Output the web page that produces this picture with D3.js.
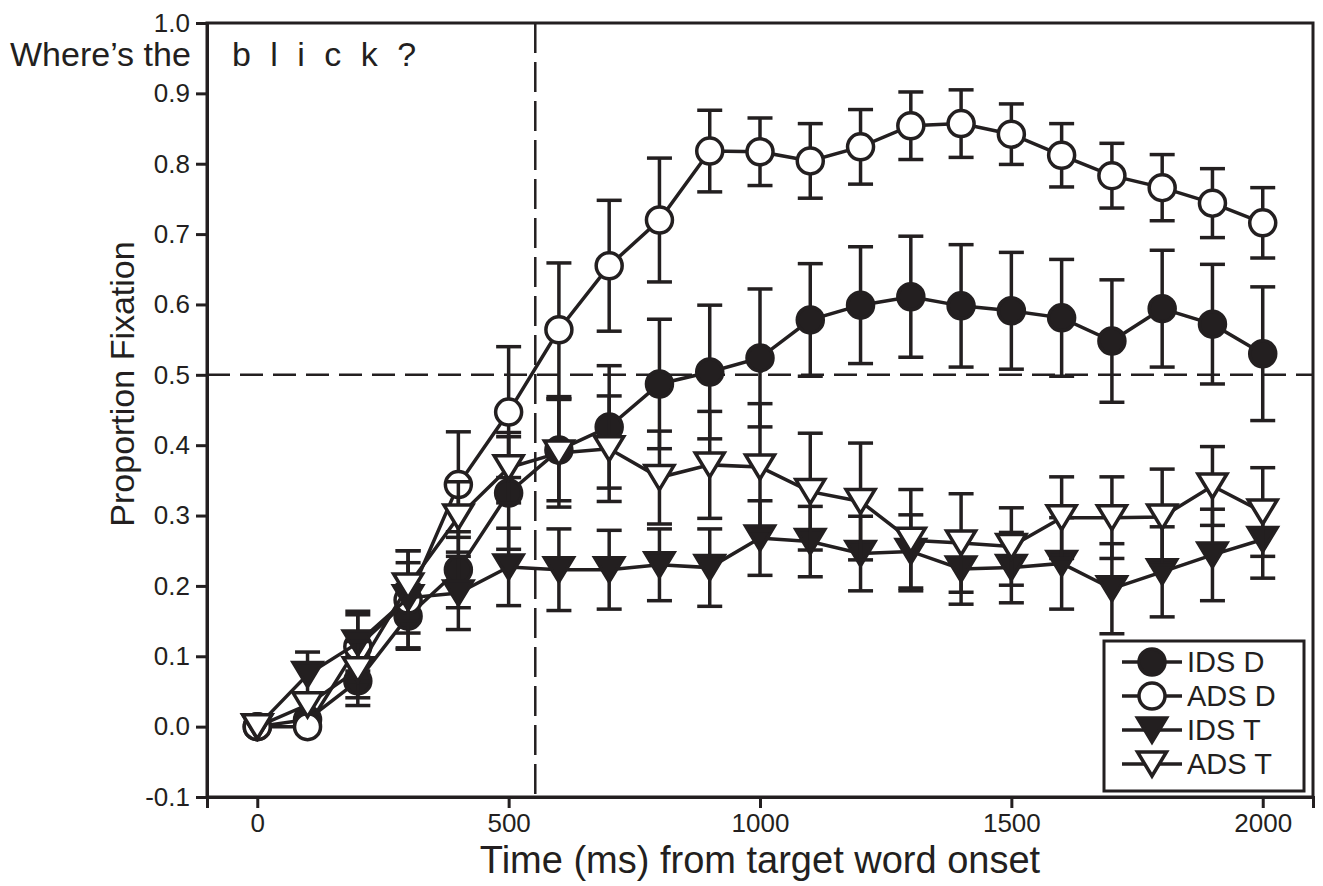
<!DOCTYPE html>
<html>
<head>
<meta charset="utf-8">
<script src="https://cdn.jsdelivr.net/npm/d3@7"></script>
<style>
  html, body { margin: 0; padding: 0; background: #fff; }
  svg { display: block; font-family: "Liberation Sans", Arial, Helvetica, sans-serif; }
</style>
</head>
<body>
<svg id="chart" width="1323" height="886"></svg>
<script>
// ---------- data ----------
const times = [0,100,200,300,400,500,600,700,800,900,1000,1100,1200,1300,1400,1500,1600,1700,1800,1900,2000];

const idsD    = [0.000,0.010,0.065,0.157,0.223,0.332,0.393,0.426,0.487,0.504,0.524,0.578,0.599,0.611,0.598,0.591,0.581,0.548,0.594,0.572,0.530];
const idsDErr = [0,0.010,0.035,0.045,0.054,0.080,0.072,0.087,0.092,0.095,0.098,0.080,0.083,0.086,0.087,0.083,0.083,0.087,0.083,0.085,0.095];

const adsD    = [0.000,0.000,0.114,0.180,0.344,0.447,0.564,0.655,0.720,0.818,0.817,0.804,0.824,0.854,0.857,0.842,0.812,0.783,0.766,0.744,0.716];
const adsDErr = [0,0,0.050,0.070,0.075,0.093,0.095,0.093,0.088,0.058,0.048,0.053,0.053,0.048,0.048,0.043,0.045,0.046,0.047,0.049,0.050];

const idsT    = [0.000,0.074,0.119,0.183,0.190,0.227,0.223,0.223,0.230,0.226,0.268,0.263,0.246,0.249,0.224,0.226,0.232,0.196,0.220,0.244,0.266];
const idsTErr = [0,0.032,0.040,0.050,0.052,0.055,0.058,0.056,0.051,0.055,0.053,0.050,0.053,0.052,0.050,0.050,0.065,0.064,0.064,0.065,0.055];

const adsT    = [0.000,0.031,0.081,0.200,0.298,0.368,0.389,0.395,0.354,0.372,0.369,0.334,0.320,0.265,0.261,0.256,0.297,0.297,0.298,0.342,0.305];
const adsTErr = [0,0.012,0.040,0.050,0.050,0.050,0.077,0.075,0.066,0.076,0.090,0.083,0.083,0.072,0.070,0.055,0.058,0.058,0.068,0.056,0.063];

const seriesNames  = ["IDS D","ADS D","IDS T","ADS T"];
const seriesShapes = ["circle","circle","triangle","triangle"];
const seriesFilled = [true,false,true,false];

const xTicks = [0,500,1000,1500,2000];
const xTickLabels = ["0","500","1000","1500","2000"];
const yTicks = [-0.1,0.0,0.1,0.2,0.3,0.4,0.5,0.6,0.7,0.8,0.9,1.0];
const yTickLabels = ["-0.1","0.0","0.1","0.2","0.3","0.4","0.5","0.6","0.7","0.8","0.9","1.0"];

const xDomain = [-100, 2100];
const yDomain = [-0.1, 1.0];
const refLevel = [0.5];     // horizontal dashed reference
const refTime = [553];      // vertical dashed reference (ms)

const xTitle = "Time (ms) from target word onset";
const yTitle = "Proportion Fixation";
const promptLead = "Where’s the";
const promptWord = "b l i c k ?";

// ---------- drawing ----------
const ink = "#231f20";
const svg = d3.select("#chart");
const x = d3.scaleLinear().domain(xDomain).range([207, 1313]);
const y = d3.scaleLinear().domain(yDomain).range([797, 23]);

const series = [
  {name: seriesNames[0], vals: idsD, err: idsDErr, shape: seriesShapes[0], filled: seriesFilled[0]},
  {name: seriesNames[1], vals: adsD, err: adsDErr, shape: seriesShapes[1], filled: seriesFilled[1]},
  {name: seriesNames[2], vals: idsT, err: idsTErr, shape: seriesShapes[2], filled: seriesFilled[2]},
  {name: seriesNames[3], vals: adsT, err: adsTErr, shape: seriesShapes[3], filled: seriesFilled[3]},
];

function markerPath(shape) {
  if (shape === "circle") return d3.symbol(d3.symbolCircle, Math.PI * 13 * 13)();
  // downward-pointing triangle centred on its bounding box
  return "M-14.5,-12L14.5,-12L0,12Z";
}

// reference lines
svg.append("g").selectAll("line").data(refLevel).join("line")
  .attr("x1", x(xDomain[0])).attr("x2", x(xDomain[1]))
  .attr("y1", d => y(d)).attr("y2", d => y(d))
  .attr("stroke", ink).attr("stroke-width", 2.5).attr("stroke-dasharray", "23,10");

svg.append("g").selectAll("line").data(refTime).join("line")
  .attr("x1", d => x(d)).attr("x2", d => x(d))
  .attr("y1", y(yDomain[1])).attr("y2", y(yDomain[0]))
  .attr("stroke", ink).attr("stroke-width", 2.5).attr("stroke-dasharray", "30,9");

// series
const line = d3.line().x(d => x(d.t)).y(d => y(d.v));
series.forEach(s => {
  const pts = times.map((t, i) => ({t, v: s.vals[i], e: s.err[i]}));
  const g = svg.append("g");
  const eb = g.append("g").selectAll("g").data(pts.filter(p => p.e > 0)).join("g")
    .attr("stroke", ink).attr("stroke-width", 3.5);
  eb.append("line")
    .attr("x1", p => x(p.t)).attr("x2", p => x(p.t))
    .attr("y1", p => y(p.v - p.e)).attr("y2", p => y(p.v + p.e));
  eb.append("line")
    .attr("x1", p => x(p.t) - 12.5).attr("x2", p => x(p.t) + 12.5)
    .attr("y1", p => y(p.v + p.e)).attr("y2", p => y(p.v + p.e));
  eb.append("line")
    .attr("x1", p => x(p.t) - 12.5).attr("x2", p => x(p.t) + 12.5)
    .attr("y1", p => y(p.v - p.e)).attr("y2", p => y(p.v - p.e));
  g.append("path").datum(pts).attr("d", line)
    .attr("fill", "none").attr("stroke", ink).attr("stroke-width", 3.5);
  g.append("g").selectAll("path").data(pts).join("path")
    .attr("d", markerPath(s.shape))
    .attr("transform", p => `translate(${x(p.t)},${y(p.v)})`)
    .attr("fill", s.filled ? ink : "#fff")
    .attr("stroke", ink).attr("stroke-width", 3.5).attr("stroke-linejoin", "miter");
});

// frame
svg.append("rect")
  .attr("x", x(xDomain[0])).attr("y", y(yDomain[1]))
  .attr("width", x(xDomain[1]) - x(xDomain[0]))
  .attr("height", y(yDomain[0]) - y(yDomain[1]))
  .attr("fill", "none").attr("stroke", ink).attr("stroke-width", 3);

// axes
const yAxis = svg.append("g").attr("transform", `translate(${x(xDomain[0])},0)`)
  .call(d3.axisLeft(y).tickValues(yTicks).tickFormat((d, i) => yTickLabels[i]).tickSize(11).tickPadding(6));
const xAxis = svg.append("g").attr("transform", `translate(0,${y(yDomain[0])})`)
  .call(d3.axisBottom(x).tickValues(xTicks).tickFormat((d, i) => xTickLabels[i]).tickSize(11).tickPadding(6));
[yAxis, xAxis].forEach(a => {
  a.select(".domain").attr("stroke", ink).attr("stroke-width", 3);
  a.selectAll(".tick line").attr("stroke", ink).attr("stroke-width", 3);
  a.selectAll(".tick text").attr("fill", ink)
    .style("font-size", "26px").style("font-family", "'Liberation Sans', Arial, sans-serif");
});

// titles
svg.append("text").attr("x", 760).attr("y", 873)
  .attr("text-anchor", "middle").attr("fill", ink).style("font-size", "38px").text(xTitle);
svg.append("text").attr("transform", "translate(134,384) rotate(-90)")
  .attr("text-anchor", "middle").attr("fill", ink).style("font-size", "34px").text(yTitle);

// prompt text
svg.append("text").attr("x", 10).attr("y", 66).attr("fill", ink)
  .style("font-size", "34px").text(promptLead);
svg.append("text").attr("x", 232).attr("y", 66).attr("fill", ink)
  .style("font-size", "34px").style("letter-spacing", "5px").text(promptWord);

// legend
const lg = svg.append("g");
lg.append("rect").attr("x", 1104).attr("y", 641).attr("width", 200).attr("height", 150)
  .attr("fill", "#fff").attr("stroke", ink).attr("stroke-width", 3);
const items = lg.selectAll("g.item").data(series).join("g").attr("class", "item")
  .attr("transform", (d, i) => `translate(0,${662 + i * 34})`);
items.append("line").attr("x1", 1122).attr("x2", 1182).attr("y1", 0).attr("y2", 0)
  .attr("stroke", ink).attr("stroke-width", 3.5);
items.append("path").attr("d", d => markerPath(d.shape))
  .attr("transform", "translate(1152,0)")
  .attr("fill", d => d.filled ? ink : "#fff").attr("stroke", ink).attr("stroke-width", 3.5);
items.append("text").attr("x", 1187).attr("y", 0).attr("dy", "0.36em")
  .attr("fill", ink).style("font-size", "29px").text(d => d.name);
</script>
</body>
</html>
